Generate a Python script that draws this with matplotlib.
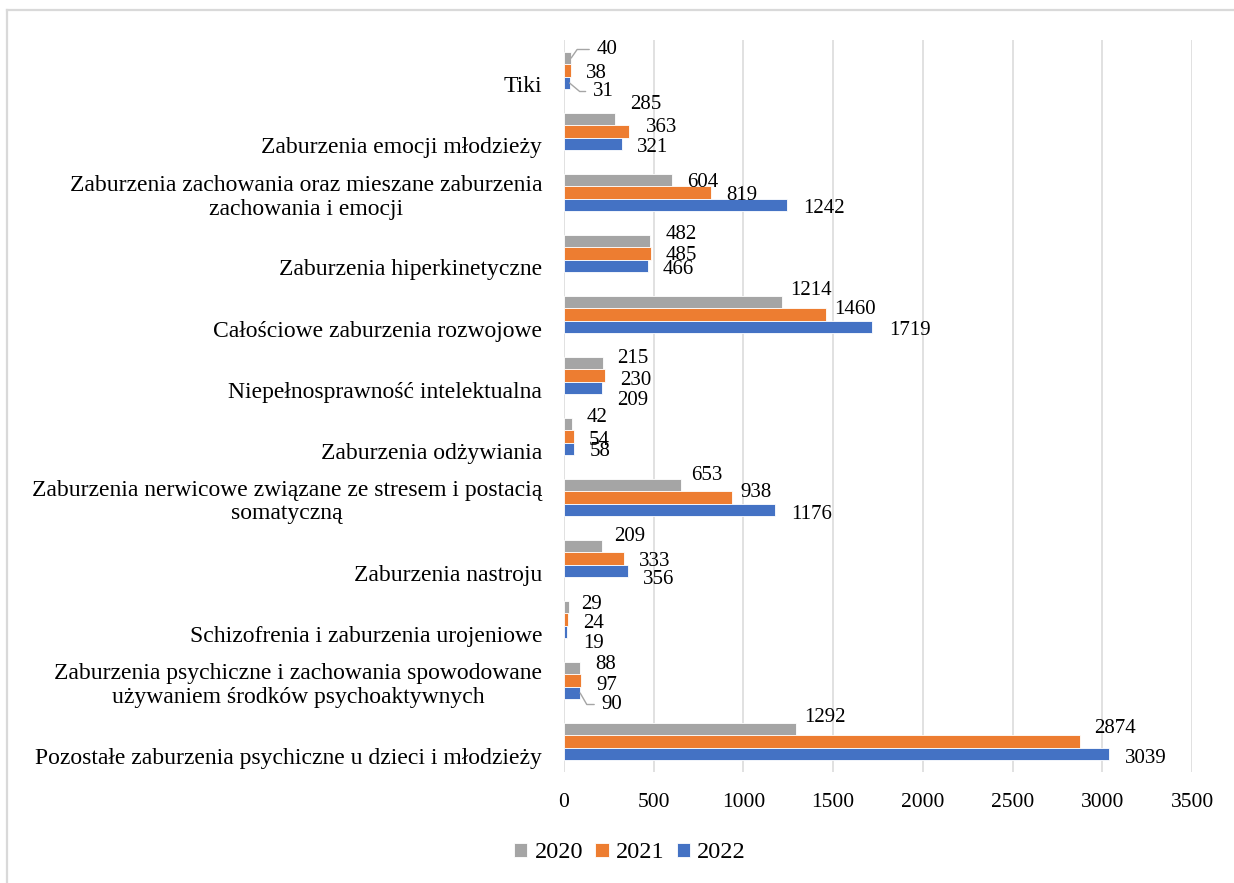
import matplotlib
matplotlib.use("Agg")
import matplotlib.pyplot as plt
from matplotlib.lines import Line2D
from matplotlib.transforms import ScaledTranslation
import numpy as np

plt.rcParams['font.family'] = ['Liberation Serif', 'DejaVu Serif']

categories = [
    "Tiki",
    "Zaburzenia emocji młodzieży",
    "Zaburzenia zachowania oraz mieszane zaburzenia\nzachowania i emocji",
    "Zaburzenia hiperkinetyczne",
    "Całościowe zaburzenia rozwojowe",
    "Niepełnosprawność intelektualna",
    "Zaburzenia odżywiania",
    "Zaburzenia nerwicowe związane ze stresem i postacią\nsomatyczną",
    "Zaburzenia nastroju",
    "Schizofrenia i zaburzenia urojeniowe",
    "Zaburzenia psychiczne i zachowania spowodowane\nużywaniem środków psychoaktywnych",
    "Pozostałe zaburzenia psychiczne u dzieci i młodzieży",
]
years = ["2020", "2021", "2022"]
values_2020 = [40, 285, 604, 482, 1214, 215, 42, 653, 209, 29, 88, 1292]
values_2021 = [38, 363, 819, 485, 1460, 230, 54, 938, 333, 24, 97, 2874]
values_2022 = [31, 321, 1242, 466, 1719, 209, 58, 1176, 356, 19, 90, 3039]
xticks = [0, 500, 1000, 1500, 2000, 2500, 3000, 3500]

colors = ['#A5A5A5', '#ED7D31', '#4472C4']

# label offsets in pixels (dx from bar end, dy downwards), Excel moved some of them
dx_2020 = [25, 15, 15, 15, 8, 15, 15, 10, 13, 12, 15, 8]
dy_2020 = [-11, -17, 0, -9, -14, -7, -9, -12, -12, -5, -6, -14]
dx_2021 = [15, 17, 15, 15, 8, 15, 15, 8, 15, 15, 15, 14]
dy_2021 = [1, -7, 1, 0, -7, 2, 1, -8, 0, 1, 2, -16]
dx_2022 = [23, 15, 16, 15, 17, 16, 15, 16, 15, 16, 21, 16]
dy_2022 = [6, 1, 1, 1, 1, 10, 0, 2, 6, 9, 9, 2]
# leader lines: (category, series) -> angle of the line at the bar end
leaders = {(0, 0): 55, (0, 2): -40, (10, 2): -60}

W, H = 1234, 883
fig = plt.figure(figsize=(W / 100, H / 100), dpi=100)
ax = fig.add_axes([564 / W, 1 - 772 / H, (1192 - 564) / W, 732 / H])

y = np.arange(len(categories))
h = 0.205
series = [values_2020, values_2021, values_2022]
dxs = [dx_2020, dx_2021, dx_2022]
dys = [dy_2020, dy_2021, dy_2022]

for s, vals in enumerate(series):
    ypos = y + (s - 1) * h
    ax.barh(ypos, vals, height=h, color=colors[s], edgecolor='white',
            linewidth=0.6, label=years[s], zorder=2)
    for i, v in enumerate(vals):
        kw = {}
        if (i, s) in leaders:
            kw['arrowprops'] = dict(arrowstyle='-', color='#A5A5A5', lw=1.0,
                                    relpos=(0, 0.5), shrinkA=3, shrinkB=0,
                                    connectionstyle="angle,angleA=0,angleB=%d,rad=0" % leaders[(i, s)])
        ax.annotate(str(v), xy=(v, ypos[i]), xytext=(dxs[s][i], -dys[s][i]),
                    textcoords='offset pixels', ha='left', va='center_baseline',
                    fontsize=15, color='black', **kw)

ax.set_xlim(0, 3500)
ax.set_ylim(len(categories) - 0.5, -0.5)
ax.set_xticks(xticks)
ax.set_xticklabels([str(t) for t in xticks])
ax.set_yticks([])
ax.tick_params(axis='x', length=0, pad=15, labelsize=15.5)
ax.grid(axis='x', color='#D9D9D9', linewidth=1.1, zorder=0)
ax.set_axisbelow(True)
for sp in ax.spines.values():
    sp.set_visible(False)

# category labels, bottom-aligned like in Excel
shift = ScaledTranslation(-22 / 100, -22 / 100, fig.dpi_scale_trans)
for i, cat in enumerate(categories):
    ax.text(0, y[i], cat, transform=ax.get_yaxis_transform() + shift,
            ha='right', va='baseline', multialignment='center', fontsize=17,
            linespacing=1.15)

fig.legend(loc='center', bbox_to_anchor=(630 / W, 1 - 853 / H), ncol=3,
           frameon=False, fontsize=17.5, handlelength=0.55, handleheight=0.55,
           handletextpad=0.3, columnspacing=0.5)

# chart border (only top and left visible)
fig.add_artist(Line2D([7 / W, 7 / W], [0, 1 - 10 / H], transform=fig.transFigure,
                      color='#D9D9D9', linewidth=1.6))
fig.add_artist(Line2D([7 / W, 1], [1 - 10 / H, 1 - 10 / H], transform=fig.transFigure,
                      color='#D9D9D9', linewidth=1.6))

fig.savefig("out.png", dpi=100)
